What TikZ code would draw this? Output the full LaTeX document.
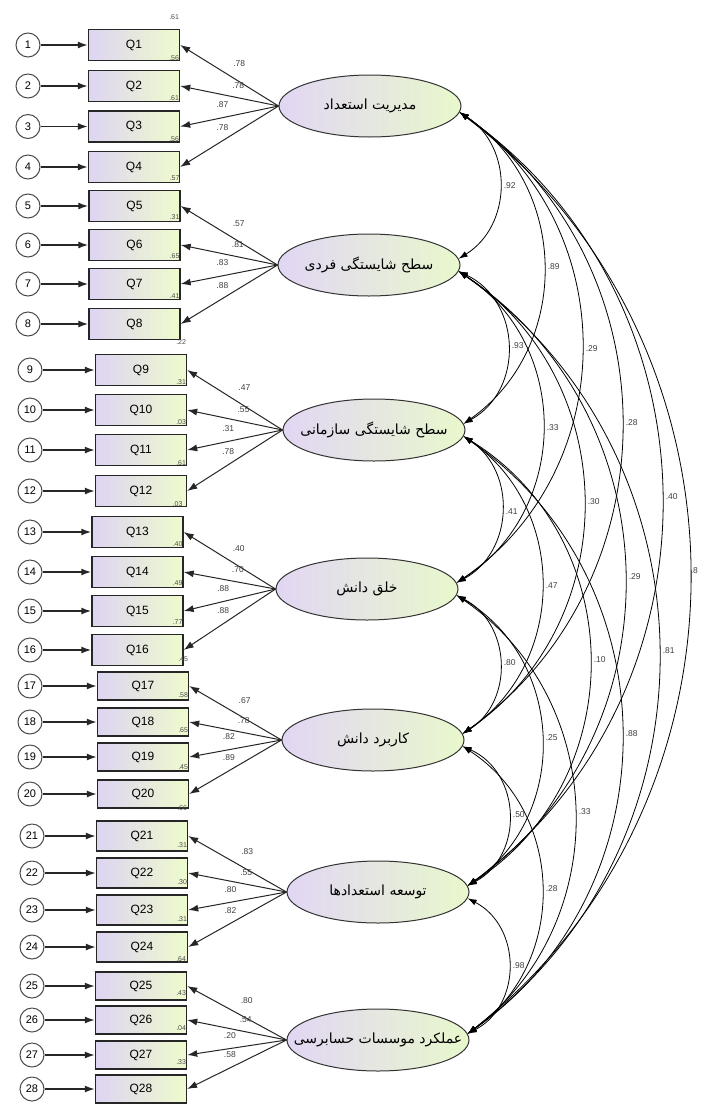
\documentclass[tikz,border=0pt]{standalone}
\usepackage{fontspec}
\setmainfont{Liberation Sans}
\newfontfamily\fafont[Script=Arabic]{DejaVu Sans}
\TeXXeTstate=1
\usetikzlibrary{shapes.geometric,arrows.meta}

\definecolor{lav}{RGB}{222,212,242}
\definecolor{lgr}{RGB}{238,251,205}
\definecolor{elav}{RGB}{226,214,244}
\definecolor{egr}{RGB}{232,248,204}

\tikzset{
 obs/.style={draw=black!85, line width=1.4pt, rectangle, minimum width=91pt, minimum height=#1, left color=lav, right color=lgr, font=\fontsize{12}{14}\selectfont, inner sep=0pt},
 err/.style={circle, draw=black!70, line width=1pt, fill=white, minimum size=24pt, inner sep=0pt, font=\fontsize{11}{12}\selectfont},
 lat/.style={ellipse, draw=black!80, line width=1pt, minimum width=182pt, minimum height=62pt, left color=elav, right color=egr, inner sep=0pt, font=\fafont\fontsize{14}{16}\selectfont},
 earrow/.style={-{Latex[length=10pt,width=7pt]}, line width=1.5pt, black!85},
 load/.style={-{Latex[length=10pt,width=7pt]}, line width=1pt, black!85},
 cov/.style={{Latex[length=9pt,width=6pt]}-{Latex[length=9pt,width=6pt]}, line width=0.8pt, black},
 lbl/.style={font=\fontsize{8.5}{9}\selectfont, text=black!75, inner sep=0pt},
 rsq/.style={font=\fontsize{7}{8}\selectfont, text=black!70, inner sep=0pt, anchor=east},
}

\newcommand\fa[1]{\makebox[0pt][c]{\beginR #1\endR}}
\newcommand\obsbox[6]{% index, box x, y, circle x, rsq, height
  \node[obs=#6] (Q#1) at (#2,#3) {Q#1};
  \node[err] (e#1) at (#4,#3) {#1};
  \draw[earrow] (e#1.east) -- (Q#1.west);
}
\newcommand\rsqlabel[2]{%
  \node[rsq] (r#1) at ([xshift=-1pt,yshift=12pt]Q#1.north east) {#2};
}
\newcommand\loadings[6]{% latent, first index, four labels
  \pgfmathtruncatemacro\qa{#2}\pgfmathtruncatemacro\qb{#2+1}%
  \pgfmathtruncatemacro\qc{#2+2}\pgfmathtruncatemacro\qd{#2+3}%
  \draw[load] (#1.west) -- node[lbl,pos=0.4,yshift=18pt]{#3} (Q\qa.east);
  \draw[load] (#1.west) -- node[lbl,pos=0.41,yshift=12pt]{#4} (Q\qb.east);
  \draw[load] (#1.west) -- node[lbl,pos=0.57,yshift=13pt]{#5} (Q\qc.east);
  \draw[load] (#1.west) -- node[lbl,pos=0.57,yshift=13pt]{#6} (Q\qd.east);
}
\newcommand\cov[5][4pt]{% [label gap] upper latent, lower latent, max x, label
  \pgfmathsetmacro\ya{{106,265,430,589,740,892,1040}[#2-1]}%
  \pgfmathsetmacro\yb{{106,265,430,589,740,892,1040}[#3-1]}%
  \pgfmathsetmacro\xa{{370,369,374,367,373,378,378}[#2-1]}%
  \pgfmathsetmacro\xb{{370,369,374,367,373,378,378}[#3-1]}%
  \pgfmathsetmacro\hh{(\yb-\ya-14)/2}%
  \pgfmathsetmacro\ss{#4-(\xa+\xb)/2-88.6}%
  \pgfmathsetmacro\bb{2*atan(\ss/\hh)}%
  \pgfmathsetmacro\ll{1.703*(\ss/\hh)/sin(\bb)}%
  \draw[cov] (L#2.-4.5) to[bend left=\bb, looseness=\ll] node[lbl,right=#1,pos=0.5]{#5} (L#3.4.5);
}

\begin{document}
\begin{tikzpicture}[x=1pt,y=-1pt]
\useasboundingbox[fill=white] (0,0) rectangle (710,1106);

% observed variables and errors
\obsbox{1}{134}{45}{28}{}{31pt}
\obsbox{2}{134}{86}{28}{}{31pt}
\obsbox{3}{134}{126.5}{28}{}{31pt}
\obsbox{4}{134}{167}{28}{}{31pt}
\obsbox{5}{134.5}{206}{28}{}{31pt}
\obsbox{6}{134.5}{245}{28}{}{31pt}
\obsbox{7}{134.5}{284}{28}{}{31pt}
\obsbox{8}{134.5}{324}{28}{}{31pt}
\obsbox{9}{141}{370}{30}{}{31pt}
\obsbox{10}{141}{410}{30}{}{31pt}
\obsbox{11}{141}{450}{30}{}{31pt}
\obsbox{12}{141}{491}{30}{}{31pt}
\obsbox{13}{137.5}{532}{30}{}{31pt}
\obsbox{14}{137.5}{572}{30}{}{31pt}
\obsbox{15}{137.5}{611}{30}{}{31pt}
\obsbox{16}{137.5}{650}{30}{}{31pt}
\obsbox{17}{143}{686}{30}{}{28pt}
\obsbox{18}{143}{722}{30}{}{28pt}
\obsbox{19}{143}{757}{30}{}{28pt}
\obsbox{20}{143}{794}{30}{}{28pt}
\obsbox{21}{142}{836}{32}{}{30pt}
\obsbox{22}{142}{873}{32}{}{30pt}
\obsbox{23}{142}{910}{32}{}{30pt}
\obsbox{24}{142}{947}{32}{}{30pt}
\obsbox{25}{141}{986}{32}{}{28pt}
\obsbox{26}{141}{1020}{32}{}{28pt}
\obsbox{27}{141}{1055}{32}{}{28pt}
\obsbox{28}{141}{1089}{32}{}{28pt}

% squared multiple correlations
\rsqlabel{1}{.61}\rsqlabel{2}{.56}\rsqlabel{3}{.61}\rsqlabel{4}{.56}
\rsqlabel{5}{.57}\rsqlabel{6}{.31}\rsqlabel{7}{.65}\rsqlabel{8}{.41}
\rsqlabel{9}{.22}\rsqlabel{10}{.31}\rsqlabel{11}{.03}\rsqlabel{12}{.61}
\rsqlabel{13}{.03}\rsqlabel{14}{.40}\rsqlabel{15}{.49}\rsqlabel{16}{.77}
\rsqlabel{17}{.45}\rsqlabel{18}{.58}\rsqlabel{19}{.65}\rsqlabel{20}{.45}
\rsqlabel{21}{.66}\rsqlabel{22}{.31}\rsqlabel{23}{.30}\rsqlabel{24}{.31}
\rsqlabel{25}{.64}\rsqlabel{26}{.43}\rsqlabel{27}{.04}\rsqlabel{28}{.33}

% latent variables
\node[lat] (L1) at (370,106) {\fa{مدیریت استعداد}};
\node[lat] (L2) at (369,265) {\fa{سطح شایستگی فردی}};
\node[lat] (L3) at (374,430) {\fa{سطح شایستگی سازمانی}};
\node[lat] (L4) at (367,589) {\fa{خلق دانش}};
\node[lat] (L5) at (373,740) {\fa{کاربرد دانش}};
\node[lat] (L6) at (378,892) {\fa{توسعه استعدادها}};
\node[lat] (L7) at (378,1040) {\fa{عملکرد موسسات حسابرسی}};

% loadings
\loadings{L1}{1}{.78}{.78}{.87}{.78}
\loadings{L2}{5}{.57}{.81}{.83}{.88}
\loadings{L3}{9}{.47}{.55}{.31}{.78}
\loadings{L4}{13}{.40}{.70}{.88}{.88}
\loadings{L5}{17}{.67}{.78}{.82}{.89}
\loadings{L6}{21}{.83}{.55}{.80}{.82}
\loadings{L7}{25}{.80}{.54}{.20}{.58}

% covariances
\cov{1}{2}{498}{.92}
\cov{2}{3}{506}{.93}
\cov{3}{4}{500}{.41}
\cov{4}{5}{498}{.80}
\cov{5}{6}{507}{.50}
\cov{6}{7}{507}{.98}
\cov{1}{3}{542}{.89}
\cov{2}{4}{541}{.33}
\cov{3}{5}{540}{.47}
\cov{4}{6}{540}{.25}
\cov{5}{7}{540}{.28}
\cov{1}{4}{580}{.29}
\cov{2}{5}{582}{.30}
\cov{3}{6}{588}{.10}
\cov{4}{7}{573}{.33}
\cov{1}{5}{620}{.28}
\cov{2}{6}{623}{.29}
\cov{3}{7}{620}{.88}
\cov{1}{6}{660}{.40}
\cov{2}{7}{657}{.81}
\cov[1pt]{1}{7}{688}{.8}
\end{tikzpicture}
\end{document}
